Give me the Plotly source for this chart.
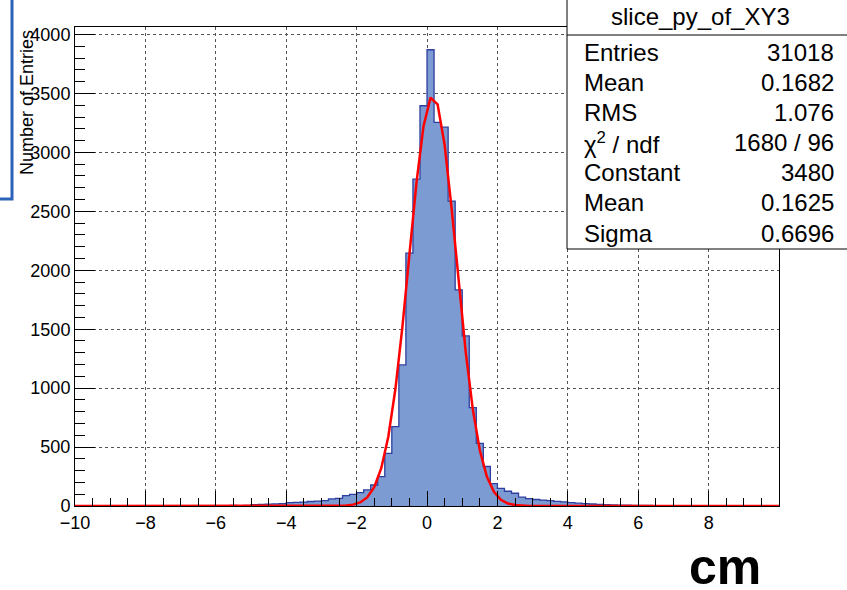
import plotly.graph_objects as go
import math

# ---- data ----
bin_low = -10.0
bin_width = 0.2
counts = [
    0, 1, 0, 1, 0, 2, 1, 1, 0, 2,          # -10.0 .. -8.0
    1, 2, 3, 2, 1, 2, 3, 3, 2, 4,          # -8.0 .. -6.0
    3, 4, 5, 4, 6,                         # -6.0 .. -5.0
    12, 14, 16, 18, 20,                    # -5.0 .. -4.0
    28, 30, 33, 38, 42, 46,                # -4.0 .. -2.8
    60, 65, 88, 98,                        # -2.8 .. -2.0
    113, 136, 178, 249, 447, 673, 1197, 2145, 2773, 3396,   # -2.0 .. 0.0
    3871, 3254, 3214, 2587, 1834, 1443, 835, 532, 335, 190, # 0.0 .. 2.0
    150, 125, 108, 75, 62, 55, 50, 45, 40, 35,              # 2.0 .. 4.0
    28, 24, 20, 17, 14, 11, 9, 8, 7, 6,                     # 4.0 .. 6.0
    5, 5, 4, 4, 3, 3, 3, 2, 2, 2,                           # 6.0 .. 8.0
    2, 1, 1, 2, 1, 1, 0, 1, 0, 1,                           # 8.0 .. 10.0
]

# stats box (from the picture)
hist_name = "slice_py_of_XY3"
stat_labels = ["Entries", "Mean", "RMS", "χ<sup>2</sup> / ndf", "Constant", "Mean", "Sigma"]
stat_values = ["31018", "0.1682", "1.076", "1680 / 96", "3480", "0.1625", "0.6696"]

# gaussian fit parameters shown in the stats box
fit_constant = 3480.0
fit_mean = 0.1625
fit_sigma = 0.6696

y_ticks = [0, 500, 1000, 1500, 2000, 2500, 3000, 3500, 4000]
x_ticks = [-10, -8, -6, -4, -2, 0, 2, 4, 6, 8]

# ---- derived ----
edges = [bin_low + bin_width * i for i in range(len(counts) + 1)]
step_y = counts + [counts[-1]]
centers = [bin_low + bin_width * (i + 0.5) for i in range(len(counts))]
fit_x = [edges[0]] + centers + [edges[-1]]
fit_y = [fit_constant * math.exp(-0.5 * ((x - fit_mean) / fit_sigma) ** 2) for x in fit_x]

fig = go.Figure()
fig.add_trace(go.Scatter(
    x=edges, y=step_y, mode="lines", line_shape="hv",
    line=dict(color="#2f3f9f", width=1.3),
    fill="tozeroy", fillcolor="#7b9bd2", hoverinfo="skip", showlegend=False,
))
fig.add_trace(go.Scatter(
    x=fit_x, y=fit_y, mode="lines",
    line=dict(color="#ff0000", width=2.5), showlegend=False,
))

# plot area in pixels: x 75..779, y 27..506
L, R, T, B = 75, 779, 27, 506
W, H = 847, 590
def px(xp):
    return (xp - L) / (R - L)
def py(yp):
    return (B - yp) / (B - T)

font_main = "Liberation Sans, Arial, sans-serif"

shapes = []
# stats box (white panel, left / bottom borders and title separator)
shapes.append(dict(type="rect", xref="paper", yref="paper",
                   x0=px(567), x1=px(W), y0=py(249), y1=py(0),
                   line=dict(width=0, color="white"), fillcolor="white", layer="above"))
shapes.append(dict(type="line", xref="paper", yref="paper",
                   x0=px(567), x1=px(567), y0=py(249), y1=py(0),
                   line=dict(color="black", width=1), layer="above"))
shapes.append(dict(type="line", xref="paper", yref="paper",
                   x0=px(567), x1=px(W), y0=py(249), y1=py(249),
                   line=dict(color="black", width=1), layer="above"))
shapes.append(dict(type="line", xref="paper", yref="paper",
                   x0=px(567), x1=px(W), y0=py(35), y1=py(35),
                   line=dict(color="black", width=1), layer="above"))
# blue window edge at top-left
shapes.append(dict(type="rect", xref="paper", yref="paper",
                   x0=px(-40), x1=px(12), y0=py(199), y1=py(-40),
                   line=dict(color="#2c62b8", width=3), fillcolor="rgba(0,0,0,0)", layer="above"))

annotations = []
annotations.append(dict(text=hist_name, xref="paper", yref="paper",
                        x=px(700), y=py(17), xanchor="center", yanchor="middle",
                        showarrow=False, font=dict(family=font_main, size=24, color="black")))
row_y0 = 52
row_dy = 30.2
for i, (lab, val) in enumerate(zip(stat_labels, stat_values)):
    yy = row_y0 + i * row_dy
    annotations.append(dict(text=lab, xref="paper", yref="paper",
                            x=px(582), y=py(yy), xanchor="left", yanchor="middle",
                            showarrow=False, font=dict(family=font_main, size=24, color="black")))
    annotations.append(dict(text=val, xref="paper", yref="paper",
                            x=px(836), y=py(yy), xanchor="right", yanchor="middle",
                            showarrow=False, font=dict(family=font_main, size=24, color="black")))
# y axis title
annotations.append(dict(text="Number of Entries", xref="paper", yref="paper",
                        x=px(27), y=py(103), xanchor="center", yanchor="middle", textangle=-90,
                        showarrow=False, font=dict(family=font_main, size=18, color="black")))
# unit label
annotations.append(dict(text="<b>cm</b>", xref="paper", yref="paper",
                        x=px(725), y=py(567), xanchor="center", yanchor="middle",
                        showarrow=False, font=dict(family=font_main, size=50, color="black")))

fig.update_layout(
    width=W, height=H,
    margin=dict(l=L, r=W - R, t=T, b=H - B, pad=0),
    paper_bgcolor="white", plot_bgcolor="white",
    shapes=shapes, annotations=annotations,
    showlegend=False,
    font=dict(family=font_main, size=18, color="black"),
)
fig.update_xaxes(
    range=[-10, 9.999], tickmode="array", tickvals=x_ticks,
    ticks="inside", ticklen=15, tickcolor="black", tickwidth=1,
    minor=dict(ticks="inside", ticklen=8, dtick=0.5, tick0=-10, tickcolor="black", showgrid=False),
    showgrid=True, gridcolor="#555555", griddash="dot", gridwidth=1,
    showline=True, linecolor="black", linewidth=1, mirror=True,
    zeroline=False, tickfont=dict(size=18, family=font_main, color="black"),
)
fig.update_yaxes(
    range=[0, 4064], tickmode="array", tickvals=y_ticks,
    ticks="inside", ticklen=20, tickcolor="black", tickwidth=1,
    minor=dict(ticks="inside", ticklen=10, dtick=100, tick0=0, tickcolor="black", showgrid=False),
    showgrid=True, gridcolor="#555555", griddash="dot", gridwidth=1,
    showline=True, linecolor="black", linewidth=1, mirror=True,
    zeroline=False, tickfont=dict(size=18, family=font_main, color="black"),
)

fig.write_html(
    "out.html",
    config={"displayModeBar": False},
    post_script="document.body.style.margin='0px';document.body.style.overflow='hidden';",
)
